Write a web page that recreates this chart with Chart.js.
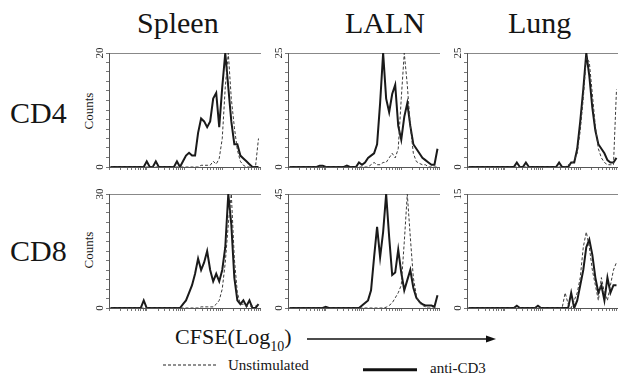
<!DOCTYPE html>
<html><head><meta charset="utf-8">
<script src="https://cdn.jsdelivr.net/npm/chart.js@4.4.1/dist/chart.umd.min.js"></script>
<style>
body{margin:0;background:#fff;width:618px;height:375px;overflow:hidden;position:relative;font-family:"Liberation Serif","DejaVu Serif",serif;color:#151515}
.t{position:absolute;white-space:nowrap;line-height:1}
canvas{position:absolute}
</style></head><body>
<div class="t" style="left:137px;top:8px;font-size:30px">Spleen</div>
<div class="t" style="left:345px;top:8px;font-size:30px">LALN</div>
<div class="t" style="left:508px;top:8px;font-size:30px">Lung</div>
<div class="t" style="left:10px;top:98px;font-size:30px">CD4</div>
<div class="t" style="left:10px;top:236px;font-size:30px">CD8</div>
<div class="t" style="left:88px;top:111px;font-size:13px;transform:translate(-50%,-50%) rotate(-90deg)">Counts</div>
<div class="t" style="left:88px;top:250px;font-size:13px;transform:translate(-50%,-50%) rotate(-90deg)">Counts</div>
<div class="t" style="left:175px;top:326px;font-size:22px">CFSE(Log<span style="font-size:14px;vertical-align:-7px">10</span>)</div>
<svg style="position:absolute;left:0;top:0" width="618" height="375">
  <line x1="307" y1="339" x2="489" y2="339" stroke="#111" stroke-width="1.3"/>
  <polygon points="496,339 486,335.5 486,342.5" fill="#111"/>
  <line x1="163" y1="365" x2="218" y2="365" stroke="#222" stroke-width="1.2" stroke-dasharray="3,2"/>
  <line x1="363" y1="369.7" x2="417" y2="369.7" stroke="#111" stroke-width="3"/>
</svg>
<div class="t" style="left:228px;top:358px;font-size:15px">Unstimulated</div>
<div class="t" style="left:430px;top:361px;font-size:15px">anti-CD3</div>

<canvas id="c0" width="185" height="130"></canvas>
<canvas id="c1" width="185" height="130"></canvas>
<canvas id="c2" width="185" height="130"></canvas>
<canvas id="c3" width="185" height="130"></canvas>
<canvas id="c4" width="185" height="130"></canvas>
<canvas id="c5" width="185" height="130"></canvas>
<script>
// 50 channels spanning 4 log decades of CFSE fluorescence
const channels = 50;
const decades = 4;
const tissues = ['Spleen', 'LALN', 'Lung'];
const subsets = ['CD4', 'CD8'];
const yMaxCD4 = [20, 25, 25];
const yMaxCD8 = [30, 45, 15];

// CD4
const spleenCD4Anti = [0,0,0,0,0,0,0,0,0,0, 0,0,1,0,0,1,0,0,0,0, 0,0,1,0,1,2,2.5,2,2,6, 8.5,8,7,8,12,13,7,14,20,14, 8,4,4,2,1.5,1,0.5,0,0,0];
const spleenCD4Unstim = [0,0,0,0,0,0,0,0,0,0, 0,0,0,0,0,0,0,0,0,0, 0,0,0,0,0,0,0,0,0,0, 0.3,0.3,0.3,0.3,1,0.5,1.5,5,14,20, 12,7,3,1,0.3,0,0,0,0,5];
const lalnCD4Anti = [0,0,0,0,0,0,0,0,0,0, 0.3,0.3,0,0,0,0,0,0,0,0.3, 0,0,0,1,0.5,1,2,2.5,3,5, 14,25,15,12,16,18,9,6,11,14, 9,5,4,3,2,1.5,1,0.5,0.5,4];
const lalnCD4Unstim = [0,0,0,0,0,0,0,0,0,0, 0,0,0,0,0,0,0,0,0,0, 0,0,0,0,0,0,0,0.5,1,0.5, 0.5,1,1,2,3,2,4,15,25,18, 9,3,1.2,0.8,0.5,0.5,0,0,0,0];
const lungCD4Anti = [0,0,0,0,0,0,0,0,0,0, 0,0,0,0,0,0,1,0,0,1, 0,0,0,0,0,0,0,0,0,0, 1,0,0,0,1,1,4,10,17,25, 20,13,8,5,4,3,1.5,1,1,2];
const lungCD4Unstim = [0,0,0,0,0,0,0,0,0,0, 0,0,0,0,0,0,0,0,0,0, 0,0,0,0,0,0,0,0,0,0, 0,0,0,0.5,0.5,1.5,3,8,15,24, 23,16,9,4,2,1,0.5,0.5,0.5,17];
// CD8
const spleenCD8Anti = [0,0,0,0,0,0,0,0,0,0, 0,2,0,0,0,0,0,0,0,0, 0,0,0,0,1,2,4,6,9,13, 10,12,15,10,7,9,7,10,16,30, 22,8,2,1,2,0.5,2,0,0,1];
const spleenCD8Unstim = [0,0,0,0,0,0,0,0,0,0, 0,0,0,0,0,0,0,0,0,0, 0,0,0,0,0,0,0,0,0,0, 0.3,0.3,0.3,0.3,0.3,1,2,5,12,22, 30,13,4,1,1,0.5,0.5,0.5,0.5,1];
const lalnCD8Anti = [0,0,0,0,0,0,0,0,0,0, 0,0,0.5,0,0,0,0,0,0,0, 0,0,0,0,1,2,3,7,20,32, 20,30,45,28,13,14,23,14,7,11, 15,8,4,2.5,1.5,1,1,1,0.5,5];
const lalnCD8Unstim = [0,0,0,0,0,0,0,0,0,0, 0,0,0,0,0,0,0,0,0,0, 0,0,0,0,0,0,0,0,0,0, 0,0,0.3,1,2,4,6,9,26,45, 28,12,5,2,1,0.5,0,0,0,0];
const lungCD8Anti = [0,0,0,0,0,0,0,0,0,0, 0,0,0,0,0,0,0.3,0,0,0, 0,0,0,0.3,0,0,0,0,0,0, 0,0,0,0,2,0,1,3,5,8, 9,7,4,2,3,1,4,2,3,3];
const lungCD8Unstim = [0,0,0,0,0,0,0,0,0,0, 0,0,0,0,0,0,0,0,0,0, 0,0,0,0,0,0,0,0,0,0, 0,0,2,0.5,0,1,2,4,8,10, 8,5,3,1,4,2,1,3,5,6];

const panels = [
  {anti: spleenCD4Anti, unstim: spleenCD4Unstim, max: yMaxCD4[0]},
  {anti: lalnCD4Anti, unstim: lalnCD4Unstim, max: yMaxCD4[1]},
  {anti: lungCD4Anti, unstim: lungCD4Unstim, max: yMaxCD4[2]},
  {anti: spleenCD8Anti, unstim: spleenCD8Unstim, max: yMaxCD8[0]},
  {anti: lalnCD8Anti, unstim: lalnCD8Unstim, max: yMaxCD8[1]},
  {anti: lungCD8Anti, unstim: lungCD8Unstim, max: yMaxCD8[2]}
];

// layout (pixels)
const plotLefts = [109, 288, 467];
const plotTops = [53, 194];
const plotW = 151, plotH = 114, axisW = 30, padTop = 8, padRight = 4, axisH = 8;

const xTickValues = [];
for (let e = 0; e < decades; e++) for (let m = 1; m <= 9; m++) xTickValues.push(m * Math.pow(10, e));
xTickValues.push(Math.pow(10, decades));

function toXY(arr) {
  return arr.map((v, i) => ({x: Math.pow(10, (i + 0.5) * decades / channels), y: v}));
}

panels.forEach((p, k) => {
  const col = k % 3, row = Math.floor(k / 3);
  const cv = document.getElementById('c' + k);
  cv.style.left = (plotLefts[col] - axisW) + 'px';
  cv.style.top = (plotTops[row] - padTop) + 'px';
  const ymax = p.max;
  const yTicks = [];
  for (let j = 0; j <= 12; j++) yTicks.push(ymax * j / 12);
  new Chart(cv, {
    type: 'line',
    data: {datasets: [
      {label: 'Unstimulated', data: toXY(p.unstim), borderColor: '#3a3a3a', borderWidth: 1, borderDash: [3, 2], tension: 0, pointRadius: 0, fill: false},
      {label: 'anti-CD3', data: toXY(p.anti), borderColor: '#1a1a1a', borderWidth: 2, tension: 0, pointRadius: 0, fill: false}
    ]},
    options: {
      responsive: false, animation: false, events: [],
      layout: {padding: {top: padTop, right: padRight, left: 0, bottom: 0}},
      plugins: {legend: {display: false}, tooltip: {enabled: false}},
      scales: {
        x: {
          type: 'logarithmic', min: 1, max: Math.pow(10, decades), position: 'bottom',
          afterBuildTicks: s => { s.ticks = xTickValues.map(v => ({value: v, major: Number.isInteger(Math.log10(v))})); },
          ticks: {display: false},
          grid: {drawOnChartArea: false, drawTicks: true, tickLength: 3, color: '#777'},
          border: {display: true, color: '#555', width: 1},
          afterFit: s => { s.height = axisH; s.paddingLeft = 0; s.paddingRight = 0; }
        },
        xTop: {
          type: 'linear', position: 'top', min: 0, max: 1, display: true,
          ticks: {display: false}, grid: {display: false},
          border: {display: true, color: '#888', width: 1},
          afterFit: s => { s.height = 0; s.paddingLeft = 0; s.paddingRight = 0; }
        },
        y: {
          min: 0, max: ymax,
          afterBuildTicks: s => { s.ticks = yTicks.map(v => ({value: v})); },
          ticks: {
            autoSkip: false, minRotation: 90, maxRotation: 90, crossAlign: 'center', padding: 0,
            color: '#222', font: {family: 'Liberation Serif', size: 11},
            callback: v => (v === 0 || v === ymax) ? String(v) : ''
          },
          grid: {drawOnChartArea: false, drawTicks: true, tickLength: 3, color: '#777'},
          border: {display: true, color: '#555', width: 1},
          afterFit: s => { s.width = axisW; s.paddingTop = 0; s.paddingBottom = 0; }
        }
      }
    }
  });
});
</script>
</body></html>
